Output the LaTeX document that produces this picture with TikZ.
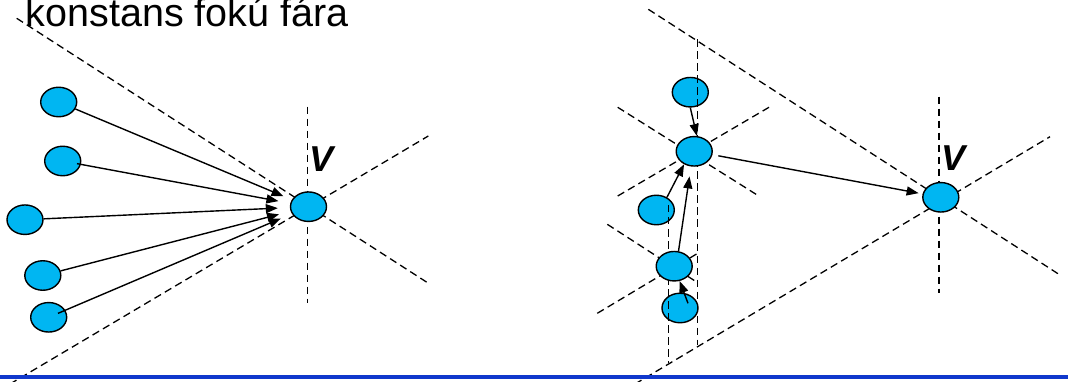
\documentclass[tikz,border=0pt]{standalone}
\usepackage{fontspec}
\setmainfont{Liberation Sans}
\usetikzlibrary{shapes.geometric,arrows.meta}
\definecolor{nodefill}{RGB}{0,182,242}
\definecolor{rulecol}{RGB}{16,56,204}
\tikzset{
 vert/.style={ellipse,draw=black,fill=nodefill,line width=1.4pt,minimum width=36pt,minimum height=29.5pt,inner sep=0pt},
 guide/.style={draw=black,line width=1.3pt,dash pattern=on 7.5pt off 4.5pt},
 edge/.style={draw=black,line width=1.4pt,-{Triangle[length=12pt,width=9pt]}},
 vlabel/.style={font=\fontsize{36}{40}\selectfont\bfseries\itshape,inner sep=0pt,anchor=base},
}
\begin{document}
\begin{tikzpicture}[x=1pt,y=-1pt]
\useasboundingbox (0,0) rectangle (1068,382);

% nodes lying under the dashed guides
\node[vert] (r1) at (690.3,92.2) {};
\node[vert] (r3) at (656.3,210) {};
\node[vert] (r5) at (680,308) {};

% dashed guides, left
\draw[guide] (16.7,18.3) -- (428,283);
\draw[guide] (10,384) -- (428.3,136);
\draw[guide] (307.7,106.7) -- (307.7,303.3);

% dashed guides, right
\draw[guide] (648.3,9.3) -- (1060,275);
\draw[guide] (635,384) -- (1050,136.7);
\draw[guide] (939,96.7) -- (939,293.3);
\draw[guide] (617.7,107.3) -- (758.3,195.7);
\draw[guide] (617.7,196) -- (769,107.3);
\draw[guide] (697.7,39.5) -- (697.7,344.5);
\draw[guide] (607.3,224.3) -- (697.7,282.7);
\draw[guide] (597.3,313.3) -- (697.7,253.3);
\draw[guide] (668.3,205) -- (668.3,362.5);

% nodes on top
\node[vert] (e1) at (58.7,102) {};
\node[vert] (e2) at (62.7,161) {};
\node[vert] (e3) at (25,219.7) {};
\node[vert] (e4) at (42.8,275.5) {};
\node[vert] (e5) at (48.7,317.3) {};
\node[vert] (vl) at (308.5,206.7) {};
\node[vert] (r2) at (694.2,151.3) {};
\node[vert] (r4) at (674.2,266.2) {};
\node[vert] (vr) at (940.8,197.3) {};

% arrows, left
\draw[edge,shorten >=9pt] (e1) -- (vl);
\draw[edge,shorten <=-4pt,shorten >=12pt] (e2) -- (vl);
\draw[edge,shorten >=12pt] (e3) -- (vl);
\draw[edge,shorten >=12pt] (e4) -- (vl);
\draw[edge,shorten <=-8pt,shorten >=12pt] (e5) -- (vl);

% arrows, right
\draw[edge] (r1.south) -- (r2.80);
\draw[edge] (r3.50) -- (r2.232);
\draw[edge,shorten >=10pt] (r4.74) -- (r2.258);
\draw[edge] ([shift={(8,-4.7)}]r5.center) -- (r4.290);
\draw[edge,shorten <=6pt,shorten >=4pt] (r2) -- (vr);

% labels
\node[anchor=base west,font=\fontsize{39.5}{44}\selectfont,inner sep=0pt] (title) at (25.7,26.7) {konstans fokú fára};
\node[vlabel] (lblvl) at (321.5,171.5) {V};
\node[vlabel] (lblvr) at (953,171) {V};

% bottom rule
\draw[rulecol,line width=4pt] (0,376.7) -- (1068,376.7);
\end{tikzpicture}
\end{document}
